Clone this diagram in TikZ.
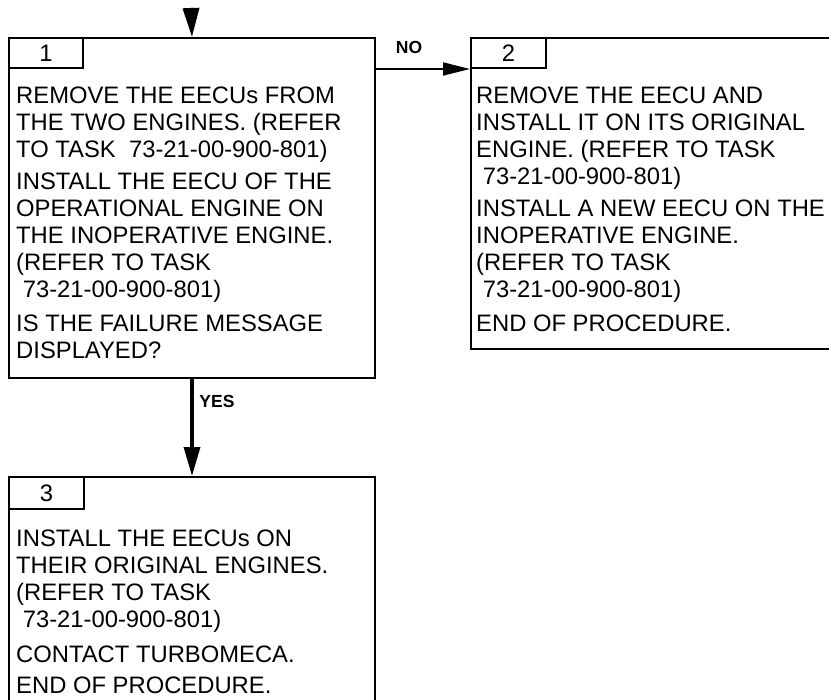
\documentclass[tikz,border=0pt]{standalone}
\usepackage{fontspec}
\setmainfont{Liberation Sans}
\usetikzlibrary{arrows.meta}
\tikzset{
  box/.style={draw, line width=2pt, inner sep=0pt, anchor=north west},
  tab/.style={draw, line width=2pt, inner sep=0pt, anchor=north west, font=\fontsize{23.8}{27}\selectfont},
  txt/.style={inner sep=0pt, anchor=north west, align=left, font=\fontsize{23.8}{27}\selectfont},
  lbl/.style={inner sep=0pt, font=\fontsize{17.5}{20}\selectfont\bfseries},
  arrthick/.style={line width=3.5pt, -{Triangle[length=29pt,width=16pt]}},
  arrthin/.style={line width=1.8pt, -{Triangle[length=27pt,width=13pt]}}
}
\newcommand{\lsp}{\hspace*{6.6pt}}
\begin{document}
\begin{tikzpicture}[x=1pt,y=-1pt]
\useasboundingbox (0,0) rectangle (829,700);
\clip (0,0) rectangle (829,700);
% boxes
\node[box, minimum width=366pt, minimum height=340pt] (b1) at (8,37) {};
\node[box, minimum width=380pt, minimum height=311pt] (b2) at (470,37) {};
\node[box, minimum width=366pt, minimum height=240pt] (b3) at (8,476) {};
% tabs
\node[tab, minimum width=74pt, minimum height=30pt] (t1) at (8,37) {1};
\node[tab, minimum width=75pt, minimum height=30pt] (t2) at (470,37) {2};
\node[tab, minimum width=75pt, minimum height=32pt] (t3) at (8,476) {3};
% texts
\node[txt] (x1) at (16,86.5) {REMOVE THE EECUs FROM\\
THE TWO ENGINES. (REFER\\
TO TASK\ \ 73-21-00-900-801)\\[5pt]
INSTALL THE EECU OF THE\\
OPERATIONAL ENGINE ON\\
THE INOPERATIVE ENGINE.\\
(REFER TO TASK\\
\lsp 73-21-00-900-801)\\[7pt]
IS THE FAILURE MESSAGE\\
DISPLAYED?};
\node[txt] (x2) at (476,86.5) {REMOVE THE EECU AND\\
INSTALL IT ON ITS ORIGINAL\\
ENGINE. (REFER TO TASK\\
\lsp 73-21-00-900-801)\\[5pt]
INSTALL A NEW EECU ON THE\\
INOPERATIVE ENGINE.\\
(REFER TO TASK\\
\lsp 73-21-00-900-801)\\[7pt]
END OF PROCEDURE.};
\node[txt] (x3) at (16,529.5) {INSTALL THE EECUs ON\\
THEIR ORIGINAL ENGINES.\\
(REFER TO TASK\\
\lsp 73-21-00-900-801)\\[8pt]
CONTACT TURBOMECA.\\[4pt]
END OF PROCEDURE.};
% connectors
\coordinate (in) at (191,8);
\draw[arrthick] (in) -- (b1.north);
\draw[arrthin] (b1.east |- t2.south) -- (b2.west |- t2.south);
\draw[arrthick] (b1.south) -- (b3.north);
% labels
\node[lbl] (no) at (409,47.5) {NO};
\node[lbl] (yes) at (217,401.5) {YES};
\end{tikzpicture}
\end{document}
